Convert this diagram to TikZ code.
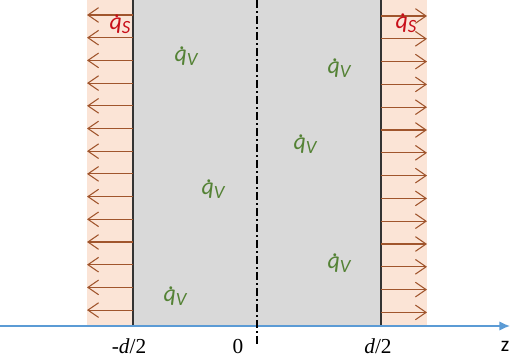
\documentclass[tikz,border=0pt]{standalone}
\usepackage{fontspec}
\setmainfont{Carlito}
\newfontfamily\tickfont{Liberation Serif}
\usepackage{xcolor}
\usetikzlibrary{arrows.meta}
\definecolor{wallpink}{RGB}{251,228,214}
\definecolor{slabgray}{RGB}{217,217,217}
\definecolor{fluxbrown}{RGB}{160,85,45}
\definecolor{axisblue}{RGB}{91,155,213}
\definecolor{sourcegreen}{RGB}{84,130,53}
\definecolor{surfred}{RGB}{200,15,25}
\newcommand{\qdot}{\itshape q\llap{\upshape\raisebox{0.5em}{.}\kern0.08em}}
\newcommand{\qvol}{\qdot\raisebox{-0.35ex}{\itshape\fontsize{14}{16}\selectfont V}}
\newcommand{\qsurf}{\qdot\raisebox{-0.35ex}{\itshape\fontsize{14}{16}\selectfont S}}

\begin{document}
\begin{tikzpicture}[
  x=0.75pt, y=-0.75pt,
  flux/.style={draw=fluxbrown, line width=0.8pt,
               -{Straight Barb[length=8pt,width=11pt]}},
  qv/.style={text=sourcegreen, font=\fontsize{18}{20}\selectfont, inner sep=0pt},
  qs/.style={text=surfred, font=\fontsize{18}{20}\selectfont, inner sep=0pt},
  tick/.style={font=\tickfont\fontsize{16}{18}\selectfont},
]
  \useasboundingbox (0,0) rectangle (510,359);

  % Walls and slab
  \fill[wallpink] (87,0) rectangle (133,326);
  \fill[wallpink] (381,0) rectangle (427,326);
  \fill[slabgray] (133,0) rectangle (381,326);
  \draw[line width=1pt, black!80] (133,0) -- (133,326);
  \draw[line width=1pt, black!80] (381,0) -- (381,326);

  % Heat flux arrows
  \foreach \k in {0,...,13} {
    \draw[flux] (133,15+22.7*\k) -- (87,15+22.7*\k);
    \draw[flux] (381,16+22.8*\k) -- (427,16+22.8*\k);
  }

  % Axis and center line
  \draw[axisblue, line width=1pt, -{Latex[length=8pt,width=7pt]}] (0,326) -- (510,326);
  \draw[line width=1.2pt, dash pattern=on 6pt off 2.5pt on 1pt off 2.5pt] (257,0) -- (257,346);

  % Labels
  \node[qs] (qsl) at (120,24) {\qsurf};
  \node[qs] (qsr) at (406,23) {\qsurf};
  \node[qv] (qv1) at (186,56) {\qvol};
  \node[qv] (qv2) at (339,68) {\qvol};
  \node[qv] (qv3) at (305,144) {\qvol};
  \node[qv] (qv4) at (213,189) {\qvol};
  \node[qv] (qv5) at (339,263) {\qvol};
  \node[qv] (qv6) at (175,296) {\qvol};

  \node[tick] (mhalf) at (129,346) {-\textit{d}/2};
  \node[tick] (zero) at (238,347) {0};
  \node[tick] (phalf) at (378,346) {\textit{d}/2};
  \node[tick, font=\fontsize{16}{17}\selectfont] (zlab) at (505,346) {z};
\end{tikzpicture}
\end{document}
